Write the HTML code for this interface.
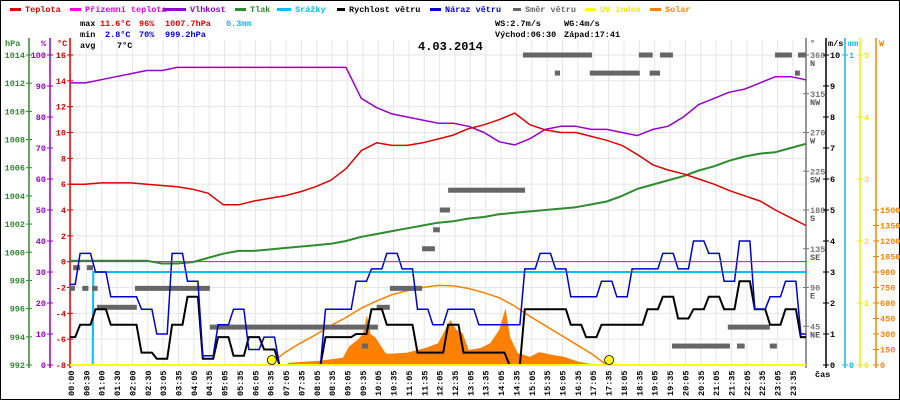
<!DOCTYPE html>
<html><head><meta charset="utf-8"><style>
html,body{margin:0;padding:0;background:#fff;}
svg{display:block;font-family:"Liberation Mono","DejaVu Sans Mono",monospace;font-size:8.5px;}
</style></head><body>
<svg id="chart" width="900" height="400" viewBox="0 0 900 400" xmlns="http://www.w3.org/2000/svg">
<rect x="0.5" y="0.5" width="899" height="399" fill="#fff" stroke="#000"/>
<g id="grid"></g>
<g id="legend" font-weight="bold"></g>
<g font-weight="bold">
<text x="80" y="26" fill="#000">max</text><text x="100" y="26" fill="#e00000">11.6°C</text><text x="139" y="26" fill="#e00000">96%</text><text x="165" y="26" fill="#e00000">1007.7hPa</text><text x="226" y="26" fill="#19b4f0">0.3mm</text>
<text x="80" y="37" fill="#000">min</text><text x="105" y="37" fill="#0000d0">2.8°C</text><text x="139" y="37" fill="#0000d0">70%</text><text x="165" y="37" fill="#0000d0">999.2hPa</text>
<text x="80" y="48" fill="#000">avg</text><text x="117" y="48" fill="#000">7°C</text>
<text x="495" y="26" fill="#000">WS:2.7m/s</text><text x="564" y="26" fill="#000">WG:4m/s</text>
<text x="495" y="37" fill="#000">Východ:06:30</text><text x="564" y="37" fill="#000">Západ:17:41</text>
</g>
<text x="418" y="50" font-size="12" font-weight="bold" fill="#000">4.03.2014</text>
<g id="axes"></g>
<g id="series"></g>
</svg>
<script>
// ---- data (half-hour samples, t = 0..24 h) ----
const temp = [6.0,6.0,6.1,6.1,6.1,6.0,5.9,5.8,5.6,5.3,4.4,4.4,4.7,4.9,5.1,5.4,5.8,6.3,7.2,8.6,9.2,9.0,9.0,9.2,9.5,9.8,10.3,10.6,11.0,11.5,10.6,10.2,10.0,10.0,9.7,9.4,9.0,8.3,7.5,7.1,6.8,6.4,6.0,5.5,5.1,4.7,4.0,3.4,2.8];
const humidity = [91,91,92,93,94,95,95,96,96,96,96,96,96,96,96,96,96,96,96,86,83,81,80,79,78,78,77,75,72,71,73,76,77,77,76,76,75,74,76,77,80,84,86,88,89,91,93,93,92];
const pressure = [999.4,999.4,999.4,999.4,999.4,999.4,999.2,999.2,999.3,999.6,999.9,1000.1,1000.1,1000.2,1000.3,1000.4,1000.5,1000.6,1000.8,1001.1,1001.3,1001.5,1001.7,1001.9,1002.1,1002.2,1002.4,1002.5,1002.7,1002.8,1002.9,1003.0,1003.1,1003.2,1003.4,1003.6,1004.0,1004.5,1004.8,1005.1,1005.4,1005.8,1006.1,1006.5,1006.8,1007.0,1007.1,1007.4,1007.7];
const windSpeed = [0.9,1.3,1.8,1.3,1.3,0.4,0.2,1.3,2.2,0.2,0.9,0.3,0.9,0.5,0,0,0,0.9,0.9,1.0,1.8,1.3,1.3,0.4,0.4,1.3,0.4,0.4,0.4,0,1.8,1.8,1.8,1.3,0.9,1.3,1.3,1.3,1.8,2.2,1.5,1.8,2.2,1.8,2.7,1.8,1.3,1.8,0.9];
const windGust = [2.6,3.6,3.0,2.2,2.2,1.8,1.0,3.6,2.7,0.3,1.3,1.8,0.5,0.9,0,0,0,1.8,1.8,2.7,3.1,3.6,3.1,1.8,1.3,1.8,1.8,1.3,1.3,1.3,3.1,3.6,3.1,2.2,2.2,2.7,2.2,3.1,3.1,3.6,3.1,4.0,3.6,2.7,4.0,1.8,2.2,2.7,1.0];
const clearSky = [0,0,0,0,0,0,0,0,0,0,0,0,0,0,120,210,290,380,460,550,620,680,720,750,770,765,740,700,650,570,470,380,290,200,110,0,0,0,0,0,0,0,0,0,0,0,0,0,0];
const solarT = [7.1,8.1,8.9,9.1,9.4,9.55,9.68,9.8,9.95,10.3,10.5,11.0,11.6,12.0,12.25,12.4,12.6,12.8,13.0,13.4,13.7,14.0,14.2,14.35,14.6,15.0,15.3,15.7,16.1,16.6,17.0,17.4];
const solarV = [20,40,70,180,250,300,480,300,270,110,110,120,165,210,350,435,340,310,145,165,210,340,550,270,115,80,125,100,80,30,10,0];
const rainT = [0,0.74,0.76,24];
const rainV = [0,0,0.3,0.3];
const groundTemp = [0,0];
const dirStart = [0,0.1,0.4,0.55,0.72,0.88,2.12,4.56,9.52,10.0,10.43,11.48,11.84,12.06,12.33,14.77,15.81,16.95,18.55,18.9,19.24,19.63,21.45,21.75,22.82,22.99,23.64,23.74];
const dirEnd   = [0.16,0.33,0.6,0.75,0.9,2.18,4.56,10.04,9.72,10.43,11.48,11.9,12.06,12.39,14.84,17.02,15.98,18.58,19.0,19.24,19.66,21.52,22.82,22.0,23.05,23.54,23.8,24];
const dirDeg   = [89,113,89,113,89,67,89,44,22,67,89,135,157,180,203,360,339,339,360,339,360,22,44,22,22,360,339,360];
const sunEvents = [6.58,17.58];
const timeLabels = ["00:00","00:30","01:00","01:30","02:00","02:30","03:05","03:35","04:05","04:35","05:05","05:35","06:05","06:35","07:05","07:35","08:05","08:35","09:05","09:35","10:05","10:35","11:05","11:35","12:05","12:35","13:05","13:35","14:05","14:35","15:05","15:35","16:05","16:35","17:05","17:35","18:05","18:35","19:05","19:35","20:05","20:35","21:05","21:35","22:05","22:35","23:05","23:35"];
const tempTicks = [-8,-6,-4,-2,0,2,4,6,8,10,12,14,16];
const humTicks = [0,10,20,30,40,50,60,70,80,90,100];
const presTicks = [992,994,996,998,1000,1002,1004,1006,1008,1010,1012,1014];
const dirTicks = [45,90,135,180,225,270,315,360];
const dirNames = ["NE","E","SE","S","SW","W","NW","N"];
const windTicks = [0,1,2,3,4,5,6,7,8,9,10];
const uvTicks = [0,1,2,3,4,5];
const solarTicks = [0,150,300,450,600,750,900,1050,1200,1350,1500];

// ---- scales ----
const X0=70, X1=806, YB=365, YT=55;
const X = t => X0 + t*(X1-X0)/24;
const yT = v => YB - (v+8)*(YB-YT)/24;
const yH = v => YB - v*(YB-YT)/100;
const yP = v => YB - (v-992)*(YB-YT)/22;
const yW = v => YB - v*(YB-YT)/10;
const yD = v => YB - v*(YB-YT)/360;
const yR = v => YB - v*(YB-YT)/1;
const yU = v => YB - v*(YB-YT)/5;
const yS = v => YB - v*155/1500;
const NS="http://www.w3.org/2000/svg";
function mk(tag, attrs, parent, txt){const e=document.createElementNS(NS,tag);for(const k in attrs)e.setAttribute(k,attrs[k]);if(txt!==undefined)e.textContent=txt;parent.appendChild(e);return e;}
const grid=document.getElementById('grid'), axes=document.getElementById('axes'), ser=document.getElementById('series'), leg=document.getElementById('legend');

// grid
timeLabels.forEach((s,i)=>{const x=71+i*15.36;
 const l=mk('line',{x1:x,x2:x,y1:40,y2:YB,stroke:'#e6e6e6'},grid);
 
 
 const tx=mk('text',{x:0,y:0,transform:`translate(${x+3},396) rotate(-90)`,fill:'#000','font-weight':'bold'},axes,s);
 
 
});
tempTicks.forEach(v=>{const l=mk('line',{x1:X0,x2:X1,y1:yT(v),y2:yT(v),stroke:'#e6e6e6'},grid);
 
 });

// legend
const legItems=[["Teplota","#e00000",10,25],["Přízemní teplota","#ff00ff",70,85],["Vlhkost","#9900cc",163,190],["Tlak","#2e8b2e",235,250],["Srážky","#00bfff",277,295],["Rychlost větru","#000",337,349],["Náraz větru","#0000d0",430,445],["Směr větru","#666",513,525],["UV index","#ffff00",585,600],["Solar","#ff8000",650,665]];
legItems.forEach(it=>{const g=mk('g',{},leg);
 
 
 mk('rect',{x:it[2],y:8,width:it[3]-it[2]-4,height:3,fill:it[1]},g);
 mk('text',{x:it[3],y:12,fill:it[1]==="#ffff00"?"#eeee00":(it[1]==="#ff00ff"?"#e000e0":it[1])},g,it[0]);});

// axes
function vaxis(x,color,ticks,yf,labels,side,name){
 const g=mk('g',{},axes);
 
 
 mk('line',{x1:x,x2:x,y1:38,y2:368,stroke:color,'stroke-width':1.5},g);
 ticks.forEach((v,i)=>{const y=yf(v);
  mk('line',{x1:x-3,x2:x+3,y1:y,y2:y,stroke:color},g);
  if(side==='l') mk('text',{x:x-4,y:y+3,fill:color,'text-anchor':'end','font-weight':'bold'},g,labels?labels[i]:v);
  else mk('text',{x:x+4,y:y+3,fill:color,'font-weight':'bold'},g,labels?labels[i]:v);
 });
 return g;}
vaxis(29,'#2e8b2e',presTicks,yP,null,'l','pressure-axis');
vaxis(50,'#9900cc',humTicks,yH,null,'l','humidity-axis');
vaxis(70,'#e00000',tempTicks,yT,null,'l','temperature-axis');
const dg=vaxis(806,'#777',dirTicks,yD,null,'r','direction-axis');
dirTicks.forEach((v,i)=>mk('text',{x:810,y:yD(v)+11,fill:'#555','font-weight':'bold'},dg,dirNames[i]));
vaxis(826,'#000',windTicks,yW,null,'r','wind-axis');
vaxis(845,'#19b4f0',[0,1],yR,null,'r','rain-axis');
vaxis(860,'#eeee00',uvTicks,yU,null,'r','uv-axis');
vaxis(876,'#ff8000',solarTicks,yS,null,'r','solar-axis');
[["hPa",5,"#2e8b2e"],["%",41,"#9900cc"],["°C",57,"#e00000"],["°",810,"#555"],["m/s",828,"#000"],["mm",848,"#19b4f0"],["W",879,"#ff8000"]].forEach(u=>{
 const t=mk('text',{x:u[1],y:46,fill:u[2],'font-weight':'bold'},axes,u[0]);
 
 });
const cas=mk('text',{x:815,y:377,fill:'#000','font-weight':'bold'},axes,'čas');



// series helpers
const halfT = i => i*0.5;
function line(vals,yf,color,w,name){const pts=vals.map((v,i)=>X(halfT(i)).toFixed(1)+','+yf(v).toFixed(1)).join(' ');
 const p=mk('polyline',{points:pts,fill:'none',stroke:color,'stroke-width':w,'stroke-linejoin':'round'},ser);
 
 }
function stepLine(vals,yf,color,w,name){const pts=[];vals.forEach((v,i)=>{const t=halfT(i);pts.push([Math.max(0,t-0.17),v],[Math.min(24,t+0.17),v]);});
 const p=mk('polyline',{points:pts.map(q=>X(q[0]).toFixed(1)+','+yf(q[1]).toFixed(1)).join(' '),fill:'none',stroke:color,'stroke-width':w},ser);
 
 }

// solar measured (area)
{let d=`M${X(solarT[0])},${YB}`;solarT.forEach((t,i)=>{d+=` L${X(t).toFixed(1)},${yS(solarV[i]).toFixed(1)}`;});d+=` L${X(solarT[solarT.length-1])},${YB} Z`;
 const p=mk('path',{d:d,fill:'#ff8000'},ser);
 
 }
// clear-sky solar curve
{const pts=[];clearSky.forEach((v,i)=>{const t=halfT(i);if(v>0||(clearSky[i+1]>0)||(clearSky[i-1]>0))pts.push(X(t).toFixed(1)+','+yS(v).toFixed(1));});
 const p=mk('polyline',{points:pts.join(' '),fill:'none',stroke:'#ff8000','stroke-width':1.5},ser);
 
 }
// ground temperature
{const p=mk('line',{x1:X0,x2:X1,y1:yT(groundTemp[0]),y2:yT(groundTemp[1]),stroke:'#e000e0','stroke-width':1},ser);
 
 }
// rain
{const pts=rainT.map((t,i)=>X(t).toFixed(1)+','+yR(rainV[i]).toFixed(1)).join(' ');
 const p=mk('polyline',{points:pts,fill:'none',stroke:'#00bfff','stroke-width':2},ser);
 
 }
// wind direction dashes
dirDeg.forEach((d,i)=>{const r=mk('rect',{x:X(dirStart[i]),y:yD(d)-2.5,width:Math.max(3,X(dirEnd[i])-X(dirStart[i])),height:5,fill:'#666'},ser);
 
 });
line(pressure,yP,'#2e8b2e',2,'pressure-line');
line(humidity,yH,'#9900cc',1.5,'humidity-line');
line(temp,yT,'#e00000',1.5,'temperature-line');
stepLine(windSpeed,yW,'#000',2,'wind-speed-line');
stepLine(windGust,yW,'#0000d0',1.5,'wind-gust-line');
// UV line
{const p=mk('line',{x1:X0,x2:X1,y1:yU(0),y2:yU(0),stroke:'#ffff00','stroke-width':2},ser);
 
 }
sunEvents.forEach(t=>{const c=mk('circle',{cx:X(t),cy:YB-5,r:4.5,fill:'#ffff00',stroke:'#000','stroke-width':0.8},ser);
 
 });
</script>
</body></html>
